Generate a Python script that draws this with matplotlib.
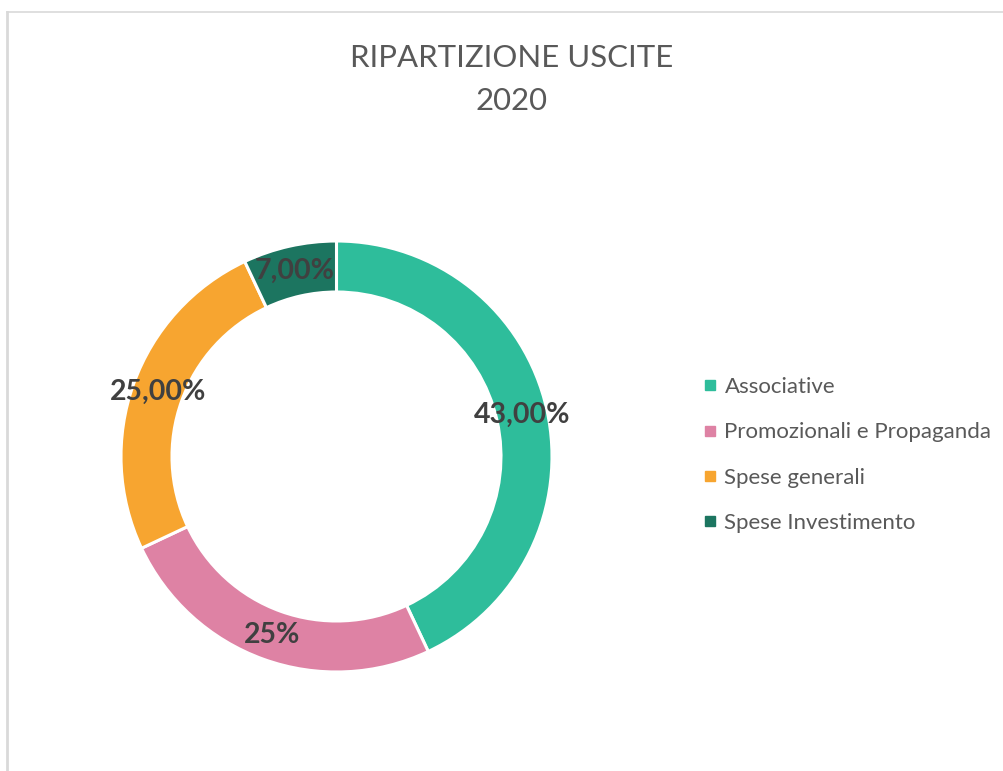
import matplotlib
matplotlib.use("Agg")
import matplotlib.pyplot as plt
import numpy as np
from matplotlib.lines import Line2D

# ── Data ─────────────────────────────────────────────
categories = ["Associative", "Promozionali e Propaganda", "Spese generali", "Spese Investimento"]
shares = [43, 25, 25, 7]
value_labels = ["43,00%", "25%", "25,00%", "7,00%"]
colors = ["#2EBD9B", "#DE82A4", "#F7A530", "#1C7560"]
title_lines = ["RIPARTIZIONE USCITE", "2020"]
# ─────────────────────────────────────────────────

plt.rcParams["font.family"] = ["Lato", "DejaVu Sans"]

W, H = 1004, 771
fig = plt.figure(figsize=(W / 100, H / 100), dpi=100)

# chart frame (only top and left edges are visible)
fig.add_artist(Line2D([7.5 / W, 7.5 / W], [0, 1 - 12 / H], color="#D9D9D9", lw=2))
fig.add_artist(Line2D([7.5 / W, 1], [1 - 12 / H, 1 - 12 / H], color="#D9D9D9", lw=1.2))

# donut placed in pixel coordinates: centre (336.5, 456.5), radius 215.5
cx, cy, r = 336.5, 456.5, 215.5
ax = fig.add_axes([(cx - r) / W, (H - cy - r) / H, 2 * r / W, 2 * r / H])
ring = 51 / r
wedges, _ = ax.pie(
    shares, colors=colors, startangle=90, counterclock=False, radius=1,
    wedgeprops=dict(width=ring, edgecolor="white", linewidth=2.2),
)
ax.set_xlim(-1, 1)
ax.set_ylim(-1, 1)
ax.set_aspect("equal")
ax.axis("off")

# value labels sit in the middle of the ring
mid_r = 1 - ring / 2
for w, lab in zip(wedges, value_labels):
    ang = np.deg2rad((w.theta1 + w.theta2) / 2)
    ax.text(mid_r * np.cos(ang), mid_r * np.sin(ang), lab, ha="center", va="center",
            fontsize=20.5, fontweight="bold", color="#404040")

fig.text(512 / W, 1 - 58 / H, title_lines[0], ha="center", va="center",
         fontsize=22.4, color="#595959")
fig.text(512 / W, 1 - 101 / H, title_lines[1], ha="center", va="center",
         fontsize=22.4, color="#595959")

handles = [Line2D([], [], marker="s", ls="", color=c, markersize=6.5) for c in colors]
fig.legend(handles, categories, loc="center left", bbox_to_anchor=(704.5 / W, 1 - 455 / H),
           frameon=False, fontsize=16, labelcolor="#595959", borderpad=0, borderaxespad=0,
           handlelength=0.5, handletextpad=0.4, labelspacing=1.14)

fig.savefig("out.png", dpi=100, facecolor="white")
